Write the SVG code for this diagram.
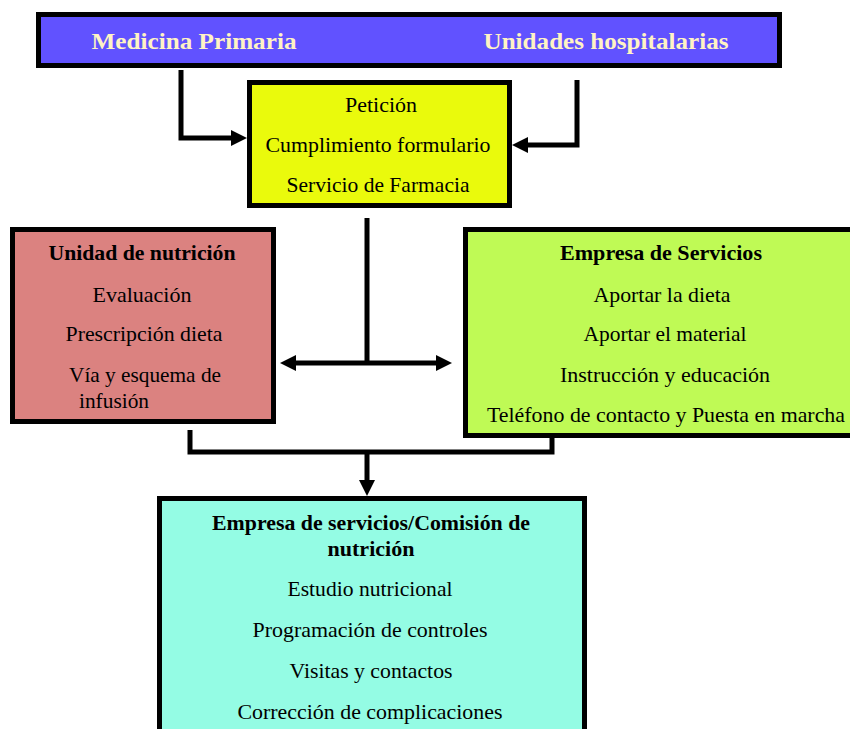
<svg xmlns="http://www.w3.org/2000/svg" width="850" height="729" viewBox="0 0 850 729">
<style>
.box{stroke:#000;stroke-width:5}
.t{font-family:"Liberation Serif","Times New Roman",serif;font-size:21px;fill:#000;text-anchor:middle}
.y{font-size:22px}
.b{font-weight:bold}
.top{fill:#FFF3C4;font-weight:bold;font-size:24px}
.c{fill:none;stroke:#000;stroke-width:5;stroke-linejoin:miter}
</style>
<defs>
<marker id="ah" viewBox="0 0 10 10" refX="0" refY="5" markerWidth="3.2" markerHeight="3.4" orient="auto" markerUnits="strokeWidth">
<path d="M0,0 L10,5 L0,10 z" fill="#000"/>
</marker>
</defs>
<rect width="850" height="729" fill="#fff"/>
<g id="top">
<rect class="box" x="38.5" y="14.5" width="741" height="51" fill="#6152FF"/>
<text class="t top" x="194" y="49" textLength="205" lengthAdjust="spacingAndGlyphs">Medicina Primaria</text>
<text class="t top" x="606" y="49" textLength="245" lengthAdjust="spacingAndGlyphs">Unidades hospitalarias</text>
</g>
<g id="peticion">
<rect class="box" x="249.5" y="82.5" width="260" height="123" fill="#EAFA0C"/>
<text class="t y" x="381" y="112" textLength="72" lengthAdjust="spacingAndGlyphs">Petición</text>
<text class="t y" x="378" y="152" textLength="225" lengthAdjust="spacingAndGlyphs">Cumplimiento formulario</text>
<text class="t y" x="378" y="192" textLength="183" lengthAdjust="spacingAndGlyphs">Servicio de Farmacia</text>
</g>
<g id="unidad">
<rect class="box" x="12.5" y="229.5" width="261" height="192" fill="#DB8280"/>
<text class="t b" x="142" y="260" textLength="187" lengthAdjust="spacingAndGlyphs">Unidad de nutrición</text>
<text class="t" x="142" y="302" textLength="99" lengthAdjust="spacingAndGlyphs">Evaluación</text>
<text class="t" x="144" y="341" textLength="157" lengthAdjust="spacingAndGlyphs">Prescripción dieta</text>
<text class="t" x="145" y="382" textLength="152" lengthAdjust="spacingAndGlyphs">Vía y esquema de</text>
<text class="t" x="114" y="408" textLength="70" lengthAdjust="spacingAndGlyphs">infusión</text>
</g>
<g id="empresa">
<rect class="box" x="465.5" y="229.5" width="390" height="206" fill="#BFFA55"/>
<text class="t b" x="661" y="260" textLength="202" lengthAdjust="spacingAndGlyphs">Empresa de Servicios</text>
<text class="t" x="662" y="302" textLength="137" lengthAdjust="spacingAndGlyphs">Aportar la dieta</text>
<text class="t" x="665" y="341" textLength="163" lengthAdjust="spacingAndGlyphs">Aportar el material</text>
<text class="t" x="665" y="382" textLength="210" lengthAdjust="spacingAndGlyphs">Instrucción y educación</text>
<text class="t" x="666" y="422" textLength="358" lengthAdjust="spacingAndGlyphs">Teléfono de contacto y Puesta en marcha</text>
</g>
<g id="comision">
<rect class="box" x="159.5" y="498.5" width="425" height="245" fill="#94FCE4"/>
<text class="t b" x="371" y="530" textLength="318" lengthAdjust="spacingAndGlyphs">Empresa de servicios/Comisión de</text>
<text class="t b" x="371" y="556" textLength="87" lengthAdjust="spacingAndGlyphs">nutrición</text>
<text class="t" x="370" y="596" textLength="165" lengthAdjust="spacingAndGlyphs">Estudio nutricional</text>
<text class="t" x="370" y="637" textLength="235" lengthAdjust="spacingAndGlyphs">Programación de controles</text>
<text class="t" x="371" y="678" textLength="163" lengthAdjust="spacingAndGlyphs">Visitas y contactos</text>
<text class="t" x="370" y="719" textLength="265" lengthAdjust="spacingAndGlyphs">Corrección de complicaciones</text>
</g>
<g id="connectors">
<path class="c" d="M181,70 V138 H231" marker-end="url(#ah)"/>
<path class="c" d="M577,80 V145 H528" marker-end="url(#ah)"/>
<path class="c" d="M367,218 V363"/>
<path class="c" d="M367,363 H296" marker-end="url(#ah)"/>
<path class="c" d="M367,363 H436" marker-end="url(#ah)"/>
<path class="c" d="M190,430 V452 H552 V438"/>
<path class="c" d="M367,452 V480" marker-end="url(#ah)"/>
</g>
</svg>
